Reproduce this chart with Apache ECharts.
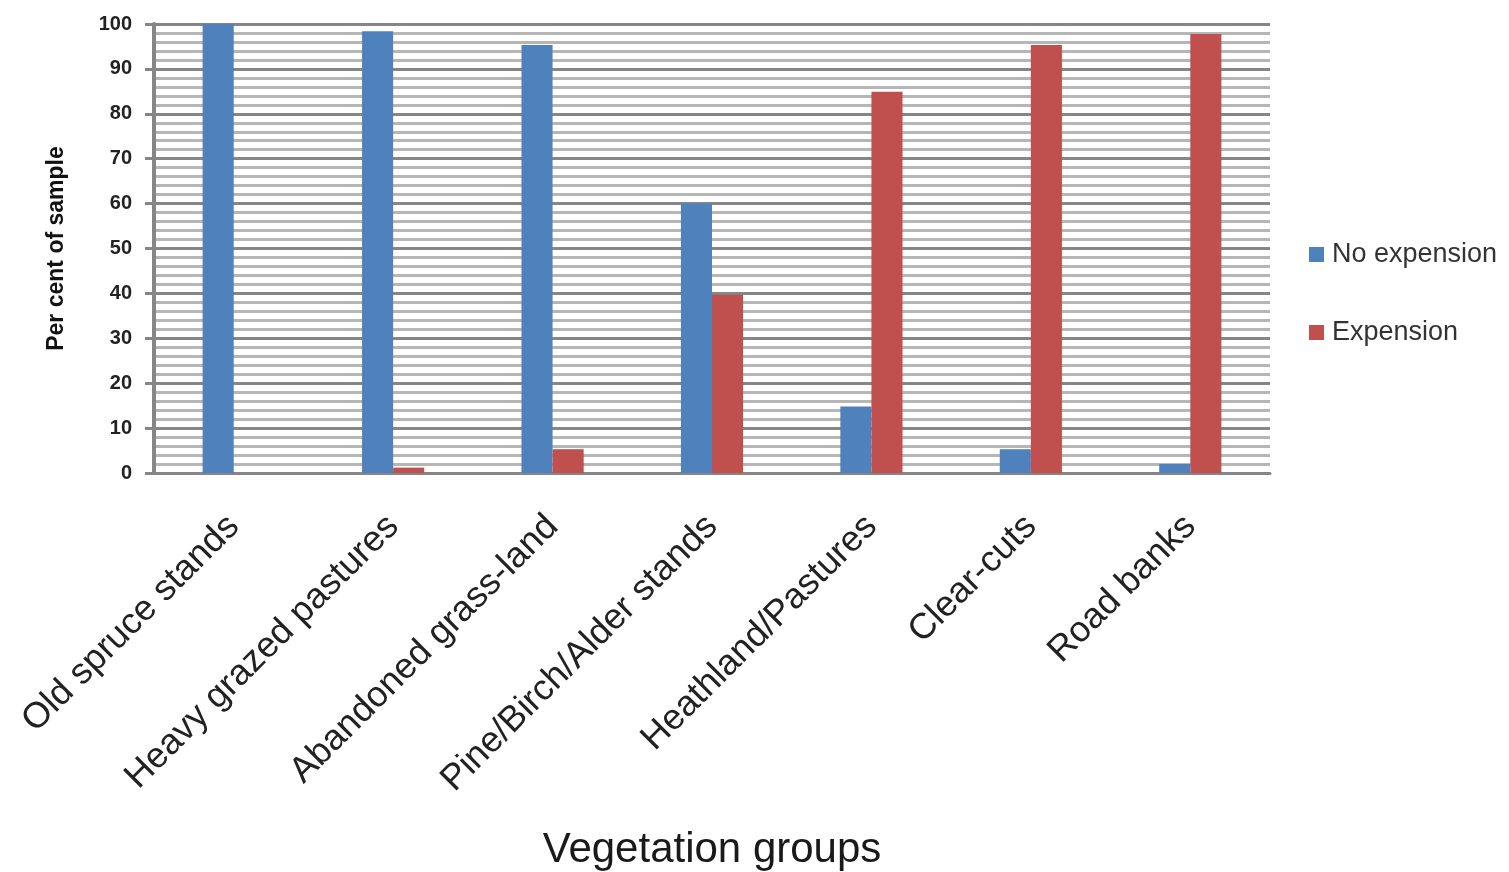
<!DOCTYPE html>
<html>
<head>
<meta charset="utf-8">
<title>Vegetation groups</title>
<script src="https://cdn.jsdelivr.net/npm/echarts@6/dist/echarts.min.js"></script>
<style>
  html, body { margin: 0; padding: 0; background: #ffffff; }
  #chart { width: 1509px; height: 872px; }
</style>
</head>
<body>
<div id="chart"></div>
<script>
// Vegetation groups along the category axis
const categories = [
  'Old spruce stands',
  'Heavy grazed pastures',
  'Abandoned grass-land',
  'Pine/Birch/Alder stands',
  'Heathland/Pastures',
  'Clear-cuts',
  'Road banks'
];

// Per cent of sample in each group
const noExpansion = [100, 98.4, 95.3, 60, 14.8, 5.3, 2];
const expansion = [0, 1.2, 5.3, 39.7, 84.9, 95.3, 97.8];

// Series names shown in the legend
const seriesNames = ['No expension', 'Expension'];

const chart = echarts.init(document.getElementById('chart'), null, { renderer: 'canvas' });

const majorGrey = '#868686';
const minorGrey = '#b6b6b6';

chart.setOption({
  animation: false,
  backgroundColor: '#ffffff',
  color: ['#4f81bd', '#c0504d'],
  grid: {
    left: 154, right: 239, top: 24, bottom: 399,
    containLabel: false,
    outerBoundsMode: 'none'
  },
  legend: {
    orient: 'vertical',
    left: 1304,
    top: 236,
    itemWidth: 15,
    itemHeight: 15,
    itemGap: 51,
    icon: 'rect',
    data: seriesNames,
    textStyle: {
      fontFamily: 'Liberation Sans, Arial, sans-serif',
      fontSize: 27,
      color: '#333333',
      padding: [0, 0, 0, 3]
    }
  },
  xAxis: {
    type: 'category',
    data: categories,
    boundaryGap: true,
    name: 'Vegetation groups',
    nameLocation: 'middle',
    nameGap: 356,
    nameTextStyle: {
      fontFamily: 'Liberation Sans, Arial, sans-serif',
      fontSize: 42,
      color: '#1a1a1a'
    },
    axisLine: { show: true, lineStyle: { color: majorGrey, width: 3 } },
    axisTick: { show: false },
    axisLabel: {
      rotate: 45,
      margin: 48,
      interval: 0,
      fontFamily: 'Liberation Sans, Arial, sans-serif',
      fontSize: 36,
      color: '#222222'
    },
    splitLine: { show: false }
  },
  yAxis: {
    type: 'value',
    min: 0,
    max: 100,
    interval: 10,
    name: 'Per cent of sample',
    nameLocation: 'middle',
    nameGap: 86,
    nameTextStyle: {
      fontFamily: 'Liberation Sans, Arial, sans-serif',
      fontSize: 23,
      fontWeight: 'bold',
      color: '#111111'
    },
    axisLine: { show: true, lineStyle: { color: majorGrey, width: 4 } },
    axisTick: { show: true, inside: false, length: 9, lineStyle: { color: majorGrey, width: 3 } },
    axisLabel: {
      margin: 22,
      fontFamily: 'Liberation Sans, Arial, sans-serif',
      fontSize: 20,
      fontWeight: 'bold',
      color: '#222222'
    },
    splitLine: { show: true, lineStyle: { color: majorGrey, width: 3 } },
    minorTick: { show: false, splitNumber: 5 },
    minorSplitLine: { show: true, lineStyle: { color: minorGrey, width: 3 } }
  },
  series: [
    {
      name: seriesNames[0],
      type: 'bar',
      data: noExpansion,
      barWidth: '19.5%',
      barGap: '0%',
      itemStyle: { color: '#4f81bd' }
    },
    {
      name: seriesNames[1],
      type: 'bar',
      data: expansion,
      barWidth: '19.5%',
      barGap: '0%',
      itemStyle: { color: '#c0504d' }
    }
  ]
});
</script>
</body>
</html>
